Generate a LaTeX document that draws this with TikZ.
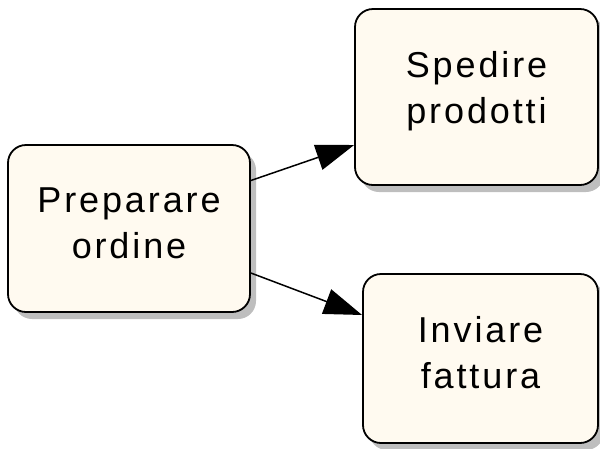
\documentclass[tikz,border=0pt]{standalone}
\usepackage{fontspec}
\setmainfont{Liberation Sans}
\newfontfamily\boxfont[LetterSpace=8]{Liberation Sans}
\usetikzlibrary{arrows.meta,shadows}
\definecolor{boxfill}{RGB}{255,250,240}
\definecolor{shadowgrey}{RGB}{190,190,190}
\newcommand\twolines[3]{\raisebox{#1}[0pt][0pt]{\begin{tabular}[t]{@{}c@{}}#2\\#3\end{tabular}}}
\tikzset{
  taskbox/.style={draw=black, line width=1.8pt, fill=boxfill, rounded corners=18pt,
    align=center, inner sep=0pt, font=\boxfont\fontsize{36}{46}\selectfont,
    drop shadow={shadow xshift=6pt, shadow yshift=-7pt, fill=shadowgrey, opacity=1}},
  flow/.style={line width=1.5pt, -{Triangle[length=38pt,width=26pt]}}
}
\begin{document}
\begin{tikzpicture}[x=1pt,y=-1pt]
\useasboundingbox (0,0) rectangle (600,448);
\node[taskbox, minimum width=242pt, minimum height=167pt] (L) at (129,228.5) {\twolines{16.5pt}{Preparare}{ordine}};
\node[taskbox, minimum width=243pt, minimum height=176pt] (T) at (476.5,97) {\twolines{20pt}{Spedire}{prodotti}};
\node[taskbox, minimum width=235pt, minimum height=169pt] (B) at (480.5,358.5) {\twolines{16.5pt}{Inviare}{fattura}};
\draw[flow] ([yshift=48pt]L.east) -- ([yshift=-48pt]T.west);
\draw[flow] ([yshift=-44.5pt]L.east) -- ([yshift=43.5pt]B.west);
\end{tikzpicture}
\end{document}
